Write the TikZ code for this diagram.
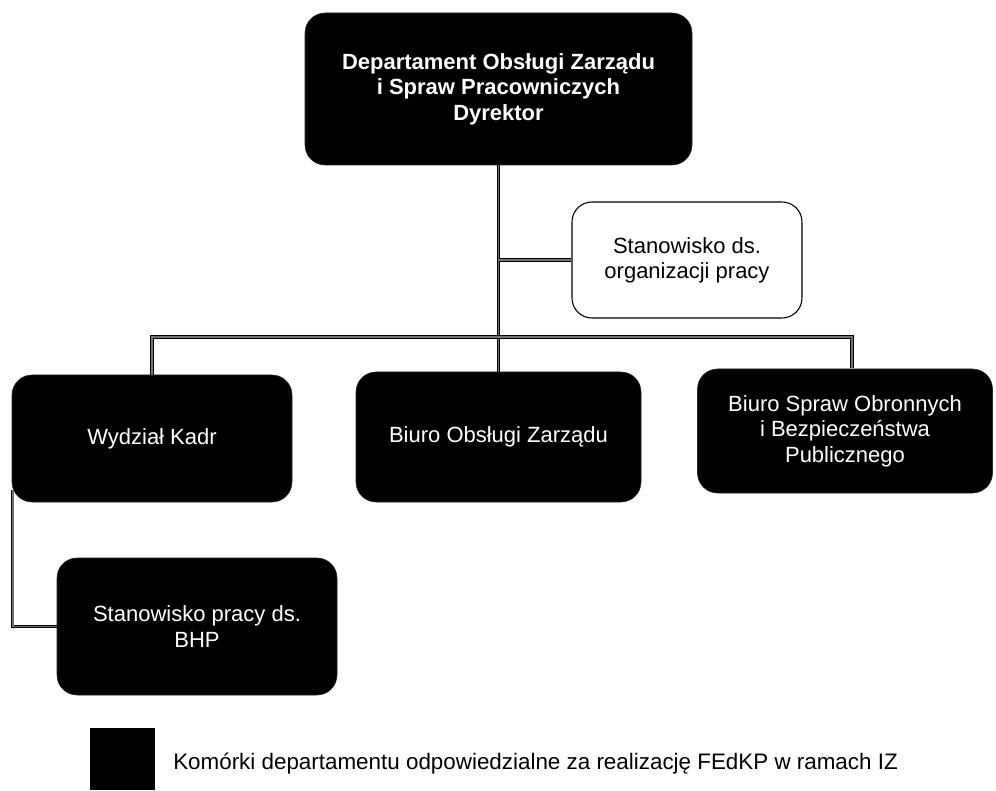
\documentclass[tikz,border=0pt]{standalone}
\usepackage{fontspec}
\setmainfont{Liberation Sans}
\usetikzlibrary{calc}
\begin{document}
\begin{tikzpicture}[x=0.75pt,y=-0.75pt,
  blackbox/.style={draw=black!85,fill=black,text=white,rounded corners=15pt,align=center,
    font=\fontsize{16.5}{19}\selectfont,inner sep=0pt},
  whitebox/.style={draw=black,line width=0.8pt,fill=white,text=black,rounded corners=15pt,align=center,
    font=\fontsize{16.5}{19}\selectfont,inner sep=0pt},
  conn/.style={draw=black,line width=0.7pt,double=black!55,double distance=1.2pt}]
\useasboundingbox (0,0) rectangle (996,791);
\fill[white] (0,0) rectangle (996,791);

\node[blackbox,minimum width=387*0.75pt,minimum height=152*0.75pt,font=\bfseries\fontsize{16.5}{19}\selectfont]
  (top) at (498.5,89) {Departament Obsługi Zarządu\\i Spraw Pracowniczych\\Dyrektor};
\node[whitebox,minimum width=230*0.75pt,minimum height=116*0.75pt]
  (org) at (687,260) {Stanowisko ds.\\organizacji pracy};
\node[blackbox,minimum width=280*0.75pt,minimum height=127*0.75pt]
  (wk) at (152,438.5) {Wydział Kadr};
\node[blackbox,minimum width=285*0.75pt,minimum height=130*0.75pt]
  (bo) at (498.5,437) {Biuro Obsługi Zarządu};
\node[blackbox,minimum width=295*0.75pt,minimum height=124*0.75pt]
  (bs) at (845,431) {Biuro Spraw Obronnych\\i Bezpieczeństwa\\Publicznego};
\node[blackbox,minimum width=280*0.75pt,minimum height=137*0.75pt]
  (bhp) at (197,626.5) {Stanowisko pracy ds.\\BHP};

\coordinate (bar) at (0,337);
\coordinate (bsin) at (852,368);

\draw[conn] (top.south) -- (bo.north);
\draw[conn] (org.west) -- (org.west -| top.south);
\draw[conn] (wk.north) -- (wk.north |- bar) -- (bsin |- bar) -- (bsin);
\draw[conn] ([shift={(1,-12)}]wk.south west) |- (bhp.west);

\node[fill=black,minimum width=65*0.75pt,minimum height=62*0.75pt,inner sep=0pt] (leg) at (122.5,759) {};
\node[anchor=west,inner sep=0pt,font=\fontsize{16.8}{19}\selectfont] (legt) at (173,764)
  {Komórki departamentu odpowiedzialne za realizację FEdKP w ramach IZ};
\end{tikzpicture}
\end{document}
